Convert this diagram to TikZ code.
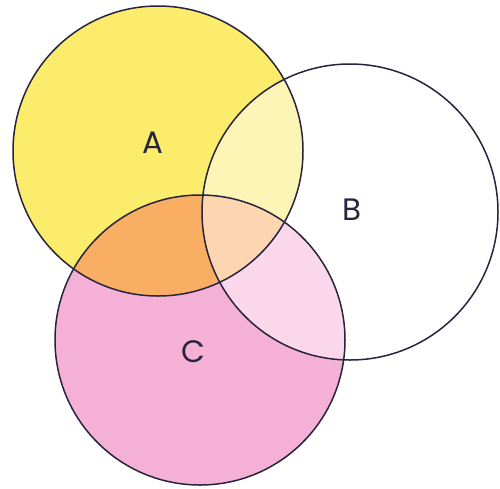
\documentclass[tikz,border=0pt]{standalone}
\usepackage{fontspec}
\setmainfont{Poppins}
\definecolor{ayellow}{RGB}{252,236,108}
\definecolor{cpink}{RGB}{245,176,214}
\definecolor{acorange}{RGB}{249,174,100}
\definecolor{outline}{RGB}{38,36,62}
\tikzset{
  ring/.style={draw=outline, line width=1.5pt},
  lbl/.style={font=\fontsize{31}{31}\selectfont, text=outline, inner sep=0pt}
}
\begin{document}
\begin{tikzpicture}[x=1pt,y=-1pt]
\useasboundingbox (0,0) rectangle (500,488);
\fill[white] (0,0) rectangle (500,488);
\coordinate (ca) at (158,151);
\coordinate (cb) at (350,212);
\coordinate (cc) at (200,340);
% fills
\fill[ayellow] (ca) circle (145);
\fill[cpink] (cc) circle (145);
\begin{scope}
  \clip (ca) circle (145);
  \fill[acorange] (cc) circle (145);
\end{scope}
\fill[white, fill opacity=0.5] (cb) circle (148);
% outlines
\draw[ring] (ca) circle (145);
\draw[ring] (cc) circle (145);
\draw[ring] (cb) circle (148);
% labels
\node[lbl] (la) at (153,143) {A};
\node[lbl] (lb) at (352,210) {B};
\node[lbl] (lc) at (193,352) {C};
\end{tikzpicture}
\end{document}
